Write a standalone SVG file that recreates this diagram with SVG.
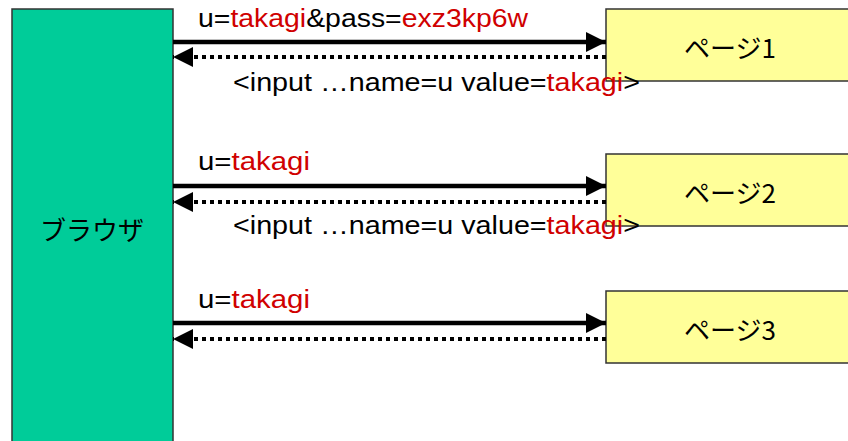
<svg xmlns="http://www.w3.org/2000/svg" width="848" height="441" viewBox="0 0 848 441">
<style>
.lbl{font-family:"Liberation Sans","Noto Sans CJK JP",sans-serif;font-size:25px;fill:#000}
.jp{font-family:"Noto Sans CJK JP","Liberation Sans",sans-serif;font-size:26px;fill:#000}
.red{fill:#d00000}
.req{stroke:#000;stroke-width:4.5;fill:none}
.res{stroke:#000;stroke-width:4;stroke-dasharray:4 4;fill:none}
.page{fill:#ffff99;stroke:#333;stroke-width:1.5}
</style>
<defs>
<marker id="ah" markerUnits="userSpaceOnUse" markerWidth="20" markerHeight="20" refX="20" refY="10" orient="auto">
<polygon points="0,0 20,10 0,20" fill="#000"/>
</marker>
</defs>
<rect width="848" height="441" fill="#fff"/>
<g id="browser">
<rect x="12" y="9" width="161" height="440" fill="#00cc99" stroke="#333" stroke-width="1.5"/>
<text class="jp" x="92" y="240" text-anchor="middle">ブラウザ</text>
</g>
<g id="page1">
<rect class="page" x="606" y="9" width="250" height="72"/>
<text class="jp" x="730" y="58" text-anchor="middle">ページ1</text>
</g>
<g id="page2">
<rect class="page" x="606" y="154" width="250" height="72"/>
<text class="jp" x="730" y="203" text-anchor="middle">ページ2</text>
</g>
<g id="page3">
<rect class="page" x="606" y="291" width="250" height="72"/>
<text class="jp" x="730" y="340" text-anchor="middle">ページ3</text>
</g>
<g id="connectors">
<line class="req" x1="173" y1="42" x2="606" y2="42" marker-end="url(#ah)"/>
<line class="res" x1="606" y1="57" x2="173" y2="57" marker-end="url(#ah)"/>
<line class="req" x1="173" y1="186" x2="606" y2="186" marker-end="url(#ah)"/>
<line class="res" x1="606" y1="202" x2="173" y2="202" marker-end="url(#ah)"/>
<line class="req" x1="173" y1="323" x2="606" y2="323" marker-end="url(#ah)"/>
<line class="res" x1="606" y1="339" x2="173" y2="339" marker-end="url(#ah)"/>
</g>
<g id="labels">
<text class="lbl" x="198" y="27" textLength="330" lengthAdjust="spacingAndGlyphs">u=<tspan class="red">takagi</tspan>&amp;pass=<tspan class="red">exz3kp6w</tspan></text>
<text class="lbl" x="233" y="91" textLength="407" lengthAdjust="spacingAndGlyphs">&lt;input …name=u value=<tspan class="red">takagi</tspan>&gt;</text>
<text class="lbl" x="198" y="170" textLength="112" lengthAdjust="spacingAndGlyphs">u=<tspan class="red">takagi</tspan></text>
<text class="lbl" x="233" y="234" textLength="407" lengthAdjust="spacingAndGlyphs">&lt;input …name=u value=<tspan class="red">takagi</tspan>&gt;</text>
<text class="lbl" x="198" y="308" textLength="112" lengthAdjust="spacingAndGlyphs">u=<tspan class="red">takagi</tspan></text>
</g>
</svg>
